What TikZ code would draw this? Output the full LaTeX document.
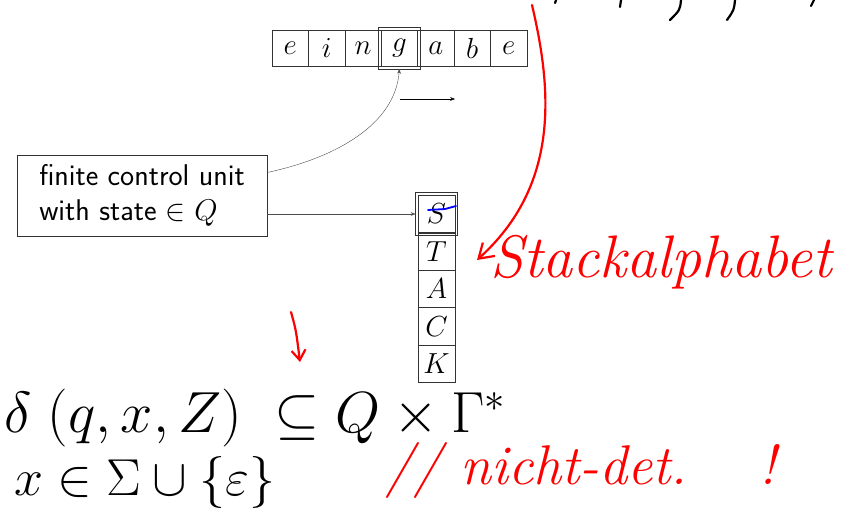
\RequirePackage{fix-cm}
\documentclass[tikz,border=0pt]{standalone}
\usetikzlibrary{arrows.meta}
\tikzset{
  cell/.style={draw=black!80, minimum size=36.5pt, inner sep=0pt, font=\fontsize{29}{29}\selectfont},
  ink/.style={line width=2.2pt, line cap=round, line join=round},
  hand/.style={font=\fontsize{#1}{#1}\selectfont, inner sep=0pt},
}
\begin{document}
\begin{tikzpicture}[x=1pt, y=-1pt, >=Stealth]
  \useasboundingbox (0,0) rectangle (854,509);

  % --- Eingabeband ---
  \foreach \l [count=\i] in {e,i,n,g,a,b,e}
    \node[cell] (t\i) at ({272+36.4*(\i-0.5)}, 48) {$\l$};
  \draw[black!80, line width=0.9pt] ([shift={(-2.5pt,2.5pt)}]t4.north west) rectangle ([shift={(2.5pt,-2.5pt)}]t4.south east);

  % Leserichtung
  \coordinate (dirA) at (400,99);
  \coordinate (dirB) at (455,99);
  \draw[->] (dirA) -- (dirB);

  % --- Kellerspeicher ---
  \foreach \l [count=\i] in {S,T,A,C,K}
    \node[cell, minimum height=37.5pt] (s\i) at (436.5, {214+37.4*(\i-1)}) {$\l$};
  \draw[black!80, line width=0.9pt] ([shift={(-2.5pt,2.5pt)}]s1.north west) rectangle ([shift={(2.5pt,-2.5pt)}]s1.south east);

  % --- Steuereinheit ---
  \node[draw=black!80, minimum width=250pt, minimum height=81pt, align=left,
        font=\sffamily\fontsize{30}{35}\selectfont] (cu) at (142,195.5)
        {finite control unit\\with state $\in Q$};

  \draw[->, black!70] ([yshift=23pt]cu.east) .. controls (335,158) and (395,125) .. ([yshift=-2.5pt]t4.south);
  \draw[->, black!70] (cu.east |- s1.west) -- ([xshift=-2.5pt]s1.west);

  % --- Handschriftliche Notizen ---
  % blauer Strich auf S
  \draw[ink, blue, line width=1.8pt] (428,210) -- (445,209) -- (456,206);

  % Kommas oben rechts
  \draw[ink] (556,0) -- (555,3);
  \draw[ink] (621,0) -- (620,7);
  \draw[ink] (681,0) .. controls (680,10) .. (670,20);
  \draw[ink] (735,0) .. controls (734,10) .. (727,20);
  \draw[ink] (814,0) -- (811,6);

  % roter Pfeil zum Stackalphabet
  \coordinate (redTop) at (532,5);
  \coordinate (redTip) at (477,260);
  \draw[ink, red, -{Straight Barb[length=14pt, width=18pt]}]
    (redTop) .. controls (552,90) and (560,185) .. (redTip);
  \node[hand=60, red, anchor=west] (stk) at (490,262) {\itshape Stackalphabet};

  % roter Pfeil auf Teilmenge
  \coordinate (subTop) at (291,312);
  \coordinate (subTip) at (300,362);
  \draw[ink, red, -{Straight Barb[length=10pt, width=14pt]}] (subTop) .. controls (296,330) .. (subTip);

  % Uebergangsrelation
  \node[hand=58, anchor=west] (delta) at (4,418) {$\delta\;(q,x,Z)\;\subseteq Q\times\Gamma^*$};
  \node[hand=52, anchor=west] (xin) at (14,482) {$x \in \Sigma \cup \{\varepsilon\}$};
  \node[hand=56, red, anchor=west] (ndet) at (385,470) {\itshape // nicht-det.\hspace{72pt}!};
\end{tikzpicture}
\end{document}
